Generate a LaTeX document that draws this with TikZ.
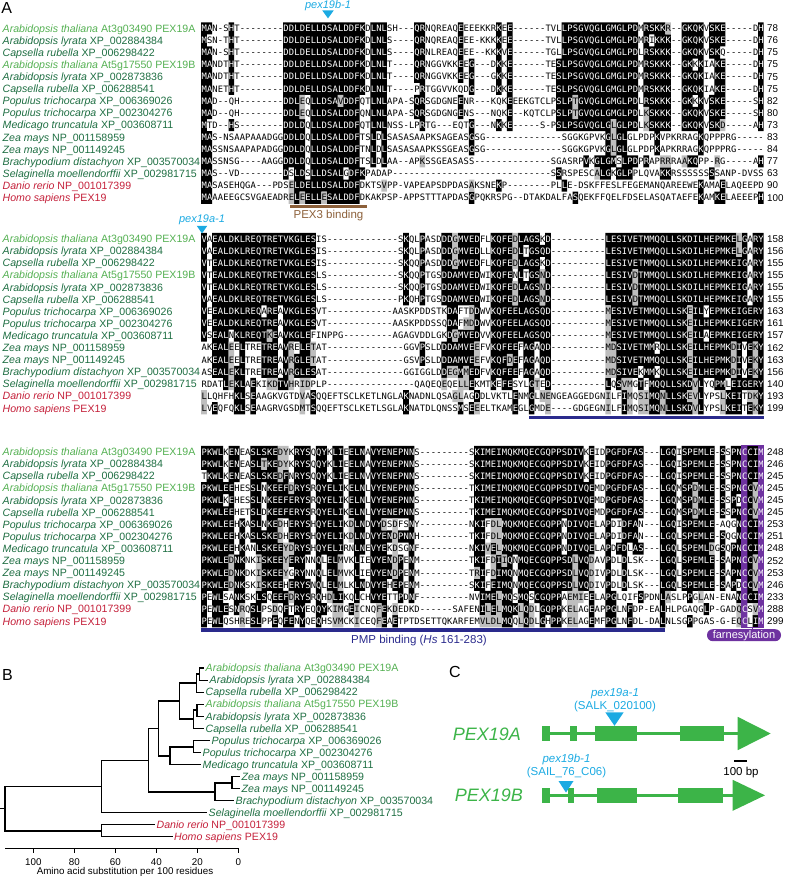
\documentclass[tikz,border=0pt]{standalone}
\usepackage{fontspec}
\setmainfont{Liberation Sans}
\newfontfamily\alnfont{DejaVu Sans Mono}
\usetikzlibrary{positioning}

\definecolor{spA}{RGB}{84,176,82}
\definecolor{spD}{RGB}{30,110,66}
\definecolor{spR}{RGB}{196,32,58}
\definecolor{insblue}{RGB}{27,170,226}
\definecolor{genegreen}{RGB}{60,180,72}
\definecolor{pexbrown}{RGB}{140,96,58}
\definecolor{pmpblue}{RGB}{42,42,140}
\definecolor{farnpurple}{RGB}{110,50,160}
\definecolor{alngray}{RGB}{190,190,190}

\tikzset{
  panel/.style={inner sep=0pt, font=\fontsize{16}{18}\selectfont},
  splabel/.style={anchor=west, inner sep=1.5pt, text height=7.6pt, text depth=0pt, font=\fontsize{10.6}{12}\selectfont},
  numlab/.style={anchor=west, inner sep=0pt, font=\fontsize{9.8}{11}\selectfont},
  resrow/.style={anchor=west, inner sep=0pt, text height=6.4pt, text depth=0pt, font=\alnfont\fontsize{8.8}{9}\selectfont},
  annot/.style={inner sep=0pt, font=\fontsize{11.5}{13}\selectfont},
  inslab/.style={inner sep=0pt, text=insblue, font=\fontsize{11.5}{13}\selectfont},
  instri/.style={fill=insblue},
  domainbar/.style={line width=3.3pt},
  farnline/.style={draw=farnpurple, line width=1.2pt},
  farnbox/.style={fill=farnpurple, text=white, rounded corners=5.8pt, minimum width=74pt, minimum height=12pt, inner sep=0pt, font=\fontsize{11}{12}\selectfont},
  treeedge/.style={line width=1.1pt},
  axisline/.style={line width=0.9pt},
  ticklab/.style={inner sep=0pt, font=\fontsize{9.8}{11}\selectfont},
  genelab/.style={anchor=east, inner sep=0pt, text=genegreen, font=\fontsize{18}{20}\selectfont\itshape},
  exon/.style={fill=genegreen, inner sep=0pt, minimum height=15.3pt},
  intron/.style={draw=genegreen, line width=2.7pt}
}

% residue boxes, shading and one text row of a block
\newcommand\alnch[1]{\makebox[5.46pt]{#1}}
\newcommand\alnwch[1]{\makebox[5.46pt]{\color{white}#1}}
\newcommand\alnfills[3]{\fill[black] #1; \fill[alngray] #2; \fill[farnpurple] #3;}
\newcommand\alnrowtext[4]{\node[resrow] (row#1-#2) at (201.27,{#3+12.1*(#2-1)}) {#4};}

\ExplSyntaxOn
\int_new:N \l_aln_best_int
\int_new:N \l_aln_cnt_int
\int_new:N \l_aln_sty_int
\int_new:N \l_aln_cur_int
\int_new:N \l_aln_runsty_int
\int_new:N \l_aln_runstart_int
\tl_new:N \l_aln_best_tl
\tl_new:N \l_aln_ch_tl
\tl_new:N \l_aln_top_tl
\tl_new:N \l_aln_black_tl
\tl_new:N \l_aln_gray_tl
\tl_new:N \l_aln_purple_tl
\seq_new:N \l_aln_col_seq
\seq_new:N \l_aln_sty_seq
\int_step_inline:nn {15} { \tl_new:c { l_aln_txt_#1_tl } }
\cs_generate_variant:Nn \tl_put_right:Nn { ce }
\cs_new_protected:Npn \alnrow #1#2#3 { \tl_gset:cn { g_aln_#1_#2_tl } {#3} }
\cs_new:Npn \aln_group:n #1
  {
    \str_case:nnF {#1}
      {
        {I}{1} {L}{1} {M}{1} {V}{1}
        {F}{2} {Y}{2} {W}{2}
        {K}{3} {R}{3} {H}{3}
        {D}{4} {E}{4}
        {N}{5} {Q}{5}
        {S}{6} {T}{6}
        {A}{7} {G}{7}
      }
      {#1}
  }
\cs_generate_variant:Nn \aln_group:n {V}
\cs_new:Npn \aln_rect:nnn #1#2#3
  {
    ( \fp_eval:n { 201.22 + 5.46 * (#1 - 1) } , \fp_eval:n { \l_aln_top_tl - 6.05 + 12.1 * (#2 - 1) } )
    ~ rectangle ~
    ( \fp_eval:n { 201.32 + 5.46 * (#1) } , \fp_eval:n { \l_aln_top_tl + 6.05 + 12.1 * (#3 - 1) } ) ~
  }
\cs_new_protected:Npn \aln_flush:nn #1#2
  {
    \int_case:nn { \l_aln_runsty_int }
      {
        {1} { \tl_put_right:Ne \l_aln_black_tl { \aln_rect:nnn {#1} { \int_use:N \l_aln_runstart_int } {#2} } }
        {2} { \tl_put_right:Ne \l_aln_gray_tl { \aln_rect:nnn {#1} { \int_use:N \l_aln_runstart_int } {#2} } }
        {3} { \tl_put_right:Ne \l_aln_purple_tl { \aln_rect:nnn {#1} { \int_use:N \l_aln_runstart_int } {#2} } }
      }
  }
% shade one block: identical to the column's most frequent residue = black, similar = gray
\cs_new_protected:Npn \alnblock #1#2
  {
    \tl_set:Nn \l_aln_top_tl {#2}
    \tl_clear:N \l_aln_black_tl
    \tl_clear:N \l_aln_gray_tl
    \tl_clear:N \l_aln_purple_tl
    \int_step_inline:nn {15} { \tl_clear:c { l_aln_txt_##1_tl } }
    \int_step_inline:nn {103}
      {
        \seq_clear:N \l_aln_col_seq
        \int_step_inline:nn {15}
          { \seq_put_right:Ne \l_aln_col_seq { \tl_item:cn { g_aln_#1_####1_tl } {##1} } }
        \int_zero:N \l_aln_best_int
        \tl_clear:N \l_aln_best_tl
        \seq_map_inline:Nn \l_aln_col_seq
          {
            \str_if_eq:nnF {####1} {-}
              {
                \int_zero:N \l_aln_cnt_int
                \seq_map_inline:Nn \l_aln_col_seq
                  { \str_if_eq:nnT {####1} {########1} { \int_incr:N \l_aln_cnt_int } }
                \int_compare:nNnT \l_aln_cnt_int > \l_aln_best_int
                  {
                    \int_set_eq:NN \l_aln_best_int \l_aln_cnt_int
                    \tl_set:Nn \l_aln_best_tl {####1}
                  }
              }
          }
        \seq_clear:N \l_aln_sty_seq
        \int_step_inline:nn {15}
          {
            \tl_set:Ne \l_aln_ch_tl { \seq_item:Nn \l_aln_col_seq {####1} }
            \int_zero:N \l_aln_sty_int
            \int_compare:nNnT \l_aln_best_int > {6}
              {
                \tl_if_eq:NNTF \l_aln_ch_tl \l_aln_best_tl
                  { \int_set:Nn \l_aln_sty_int {1} }
                  {
                    \str_if_eq:eeT { \aln_group:V \l_aln_ch_tl } { \aln_group:V \l_aln_best_tl }
                      { \int_set:Nn \l_aln_sty_int {2} }
                  }
              }
            \int_compare:nNnT {#1} = {3}
              {
                \bool_lazy_or:nnT { \int_compare_p:nNn {##1} = {100} } { \int_compare_p:nNn {##1} = {103} }
                  { \int_set:Nn \l_aln_sty_int {3} }
              }
            \seq_put_right:Ne \l_aln_sty_seq { \int_use:N \l_aln_sty_int }
            \int_compare:nNnTF { \int_mod:nn { \l_aln_sty_int } {2} } = {1}
              { \tl_put_right:ce { l_aln_txt_####1_tl } { \exp_not:N \alnwch { \l_aln_ch_tl } } }
              { \tl_put_right:ce { l_aln_txt_####1_tl } { \exp_not:N \alnch { \l_aln_ch_tl } } }
          }
        \int_zero:N \l_aln_runsty_int
        \int_set:Nn \l_aln_runstart_int {1}
        \int_step_inline:nn {16}
          {
            \int_compare:nNnTF {####1} > {15}
              { \int_zero:N \l_aln_cur_int }
              { \int_set:Nn \l_aln_cur_int { \seq_item:Nn \l_aln_sty_seq {####1} } }
            \int_compare:nNnF \l_aln_cur_int = \l_aln_runsty_int
              {
                \aln_flush:nn {##1} { \int_eval:n { ####1 - 1 } }
                \int_set_eq:NN \l_aln_runsty_int \l_aln_cur_int
                \int_set:Nn \l_aln_runstart_int {####1}
              }
          }
      }
    \use:e
      {
        \exp_not:N \alnfills
          { \exp_not:V \l_aln_black_tl }
          { \exp_not:V \l_aln_gray_tl }
          { \exp_not:V \l_aln_purple_tl }
      }
    \int_step_inline:nn {15}
      { \use:e { \exp_not:N \alnrowtext {#1} {##1} {#2} { \exp_not:v { l_aln_txt_##1_tl } } } }
  }
\ExplSyntaxOff

% block 1
\alnrow{1}{1}{MAN-SHT--------DDLDELLDSALDDFKDLNLSH---QRNQREAQEEEEKKRKEE------TVLLPSGVQGLGMGLPDMRSKKR--GKQKVSKE-----DH}
\alnrow{1}{2}{MSN-THT--------DDLDELLDSALDDFKDLNLS----QRNQREAQEEE-KKKKEE------TVLLPSGVQGLGMGLPDMRIKKK--GKQKVSKE-----DH}
\alnrow{1}{3}{MAN-SHT--------DDLDELLDSALDDFKDLNLS----QRNLREAQEEE--KKKVE------TGLLPSGVQGLGMGLPDLRSKKK--GKQKVSKQ-----DH}
\alnrow{1}{4}{MANDTHT--------DDLDELLDSALDDFKDLNLT----QRNGGVKKEEG---DKKE------TESLPSGVQGLGMGLPDMRSKKK--GKKKIAKE-----DH}
\alnrow{1}{5}{MANDTHT--------DDLDELLDSALDDFKDLNLT----QRNGGVKKEEG---GKKE------TESLPSGVQGLGMGLPDMRSKKK--GKQKIAKE-----DH}
\alnrow{1}{6}{MANETHT--------DDLDELLDSALDDFKDLNLT----PRTGGVVKQDG---DKKE------TESLPSGVQGLGMGLPDMRSKKK--GKQKIAKE-----DH}
\alnrow{1}{7}{MAD--QH--------DDLEQLLDSAVDDFQTLNLAPA-SQRSGDGNEENR---KQKEEEKGTCLPSLPTGVQGLGMGLPDLRSKKK--GKKKVSKE-----SH}
\alnrow{1}{8}{MAD--QH--------DDLEQLLDSALDDFQNLNLAPA-SQRSGDGNGENS---NQKE--KQTCLPSLPTGVQGLGMGLPDLKSKKK--GKQKVSKE-----SH}
\alnrow{1}{9}{MTD--HS--------DDLDQLLDSALDDFQTLNLNSS-LPRTG---EQTG---NKKE-----S-PSLPSGVQGLGLGLPDLKSKKK--GKQKVSKD-----AH}
\alnrow{1}{10}{MAS-NSAAPAAADGGDDLDQLLDSALDDFTSLDLSASASAAPKSAGEASGSG--------------SGGKGPVKGLGLGLPDPKVPKRRAGKQPPPRG-----AC}
\alnrow{1}{11}{MASSNSAAPAPADGGDDLDQLLDSALDDFTNLDLSASASAAPKSSGEASGSG--------------SGGKGPVKGLGLGLPDPKAPKRRAGKQPPPRG-----AC}
\alnrow{1}{12}{MASSNSG----AAGGDDLDQLLDSALDDFTSLDLAA--APKSSGEASASS--------------SGASRPVKGLGMSLPDPRAPRRRAAKQPP-RG-----AH}
\alnrow{1}{13}{MAS--VD--------DSLDSLLDSALGDFKPADAP-----------------------------SSRSPESCALGKGLPPLQVAKKRSSSSSSSSANP-DVSS}
\alnrow{1}{14}{MASASEHQGA---PDSELDELLDSALDDFDKTSVPP-VAPEAPSDPDASAKSNEKP--------PLLE-DSKFFESLFEGEMANQAREEWEKAMAELAQEEPD}
\alnrow{1}{15}{MAAAEEGCSVGAEADRELEELLESALDDFDKAKPSP-APPSTTTAPDASGPQKRSPG--DTAKDALFASQEKFFQELFDSELASQATAEFEKAMKELAEEEPH}
% block 2
\alnrow{2}{1}{VAEALDKLREQTRETVKGLESIS-------------SKQLPASDDDGMVEDFLKQFEDLAGSKD----------LESIVETMMQQLLSKDILHEPMKELGARY}
\alnrow{2}{2}{VAEALDKLREQTRETVKGLESIS-------------SKQLPASDDDGMVEDLLKQFEDLTGSQD----------LESIVETMMQQLLSKDILHEPMKELGARY}
\alnrow{2}{3}{VTEALDKLREQTRETVKGLESIS-------------SKQQPASDDDGMVEDFLKQFEDLAGSKD----------LESIVETMMQQLLSKDILHEPMKEIGARY}
\alnrow{2}{4}{VTEALDKLREQTRETVKGLESLS-------------SKQQPTGSDDAMVEDWIKQFENLTGSND----------LESIVDTMMQQLLSKDILHEPMKEIGARY}
\alnrow{2}{5}{VTEALDKLREQTRETVKGLESLS-------------SKQQPTGSDDAMVEDWIKQFEDLAGSND----------LESIVDTMMQQLLSKDILHEPMKEIGARY}
\alnrow{2}{6}{VAEALDKLREQTRETVKGLESLS-------------PKQHPTGSDDAMVEDWIKQFEDLAGSND----------LESIVDTMMQQLLSKDILHEPMKEIGARY}
\alnrow{2}{7}{VEEALDKLREQAREAVKGLESVT------------AASKPDDSTKDAFTDDWVKQFEELAGSQD----------MESIVETMMQQLLSKEILYEPMKEIGERY}
\alnrow{2}{8}{VEEALDKLREQTREAVKGLESVT------------AASKPDDSSQDAFMDDWVKQFEELAGSQD----------MESIVETMMQQLLSKEILHEPMKEIGERY}
\alnrow{2}{9}{VSEALNKLREQTKEAVKGLEFINPPG---------AGAGVDDLGKDGMVEDVVKQFEELAGSQD----------MESIVETMMQQLLSKEILAEPMKEIGERY}
\alnrow{2}{10}{AKEALEELTRETREAVRELETAT--------------GGVPSLDDDAMVEEFVKQFEEFAGAQD----------MDSIVETMMRQLLSKEILHEPMKDIVEKY}
\alnrow{2}{11}{AKEALEELTRETREAVRGLETAT--------------GSVPSLDDDAMVEEFVKQFDEFAGAQD----------MDSIVETMMQQLLSKEILHEPMKDIVEKY}
\alnrow{2}{12}{ASEALEKLTRETREAVRGLESAT--------------GGIGGLDDEGMMEDFVKQFEEFAGAQD----------MDSIVEKMMKQLLSKEILHEPMKDIVEKY}
\alnrow{2}{13}{RDATLEKLAEKIKDTVHRIDPLP----------------QAQEQEQELLEKMTKEFESYLGTED----------LQSVMGTFMQQLLSKDVLYQPMLEIGERY}
\alnrow{2}{14}{LLQHFHKLSEAAGKVGTDVASQQEFTSCLKETLNGLAKNADNLQSAGLAGDDLVKTLENMGLNENGEAGGEDGNILFIMQSIMQNLLSKEVLYPSLKEITDKY}
\alnrow{2}{15}{LVEQFQKLSEAAGRVGSDMTSQQEFTSCLKETLSGLAKNATDLQNSSMSEEELTKAMEGLGMDE----GDGEGNILFIMQSIMQNLLSKDVLYPSLKEITEKY}
% block 3
\alnrow{3}{1}{PKWLKENEASLSKEDYKRYSQQYKLIEELNAVYENEPNNS---------SKIMEIMQKMQECGQPPSDIVKEIDPGFDFAS---LGQISPEMLE-SSPNCCIM}
\alnrow{3}{2}{PKWLKENEASLTKEDYKRYSQQYKLIEELNAVYENEPNNS---------SKIMEIMQKMQECGQPPSDIVKEIDPGFDFAS---LGQISPEMLE-SSPNCCIM}
\alnrow{3}{3}{TKWLKENEASLSKEDFNRYSQQYKLIEELNVVYENEPNNS---------SKIMEIMQKMQECGQPPSDIVKEIDPGFDFAS---LGQISPEMLE-SSPNCCIM}
\alnrow{3}{4}{PKWLEEHESSLNKEEFDRYSRQYELIKELNLVYENEPNNS---------TKIMEIMQKMQECGQPPSDIVQEMDPGFDFAS---LGQMSPDMLE-SSPNCCVM}
\alnrow{3}{5}{PKWLKEHESSLNKEEFERYSRQYELIKELNLVYENEPNNS---------TKIMEIMQKMQECGQPPSDIVQEMDPGFDFAS---LGQMSPDMLE-SSPDCCVM}
\alnrow{3}{6}{PKWLEEHETSLDKEEFERYSRQYELIKELNLVYENEPNNS---------TKIMEIMQKMQECGQPPSDIVQEMDPGFDFAS---LGQMSPDMLE-SSPNCCVM}
\alnrow{3}{7}{PKWLEEHKASLNKEDHERYSHQYELIKDLNDVYDSDFSNY---------NKIFDLMQKMQECGQPPNDIVQELAPDIDFAN---LGQISPEMLE-AQGNCCIM}
\alnrow{3}{8}{PKWLEEHKASLSKEDHERYSHQYELIKDLNDVYENDPNNH---------TKIFDLMQKMQECGQPPNDIVQELAPDIDFAN---LGQLSPEMLE-SQGNCCIM}
\alnrow{3}{9}{PKWLEEHKANLSKEEYDRYSHQYELIRNLNEVYEKDSGNF---------NKIVELMQKMQECGQPPNDIVQELAPDFDLAS---LGQLSPEMLDGSQPNCCIM}
\alnrow{3}{10}{PKWLEDNKNKISKEEYERYNNQLELMVKLIEVYENDPENM---------TKIFDIIQNMQECGQPPSDLVQDAVPDLDLSK---LGQLSPEMLE-SAPNCCVM}
\alnrow{3}{11}{PKWLEDNKDKISKEEYGRYNNQLELMVKLIEVYENDPENM---------TRIFDIMQNMQECGQPPSDLVQDIVPDLDLSK---LGQLSPEMLE-SAPNCCVM}
\alnrow{3}{12}{PKWLEDNKSKISKEEHERYSNQLELMLKLNDVYEHEPENM---------SKIFEIMQNMQECGQPPSDLVQDIVPDLDLSK---LGQLSPEMLE-SAPDCCVM}
\alnrow{3}{13}{PEWLSANKSKLSQEEFDRYSRQHDLIKQLCHVYETTPDNF---------NVIMELMQSMQSCGQPPAEMIEELAPGLQIFSPDNLASLPPGLAN-ENANCCIM}
\alnrow{3}{14}{PEWLESNRQSLPSDQFTRYEQQYKIMGEICNQFEKDEDKD------SAFENILELMQKLQDLGQPPKELAGEAPPGLNFDP-EALHLPGAQGLP-GADQCSVM}
\alnrow{3}{15}{PEWLQSHRESLPPEQFENYQEQHSVMCKICEQFEAETPTDSETTQKARFEMVLDLMQQLQDLGHPPKELAGEMFPGLNFDL-DALNLSGPPGAS-G-EQCLIM}

\newcommand\splist{Arabidopsis thaliana/At3g03490 PEX19A/spA, Arabidopsis lyrata/XP\_002884384/spD,
  Capsella rubella/XP\_006298422/spD, Arabidopsis thaliana/At5g17550 PEX19B/spA,
  Arabidopsis lyrata/XP\_002873836/spD, Capsella rubella/XP\_006288541/spD,
  Populus trichocarpa/XP\_006369026/spD, Populus trichocarpa/XP\_002304276/spD,
  Medicago truncatula/XP\_003608711/spD, Zea mays/NP\_001158959/spD, Zea mays/NP\_001149245/spD,
  Brachypodium distachyon/XP\_003570034/spD, Selaginella moellendorffii/XP\_002981715/spD,
  Danio rerio/NP\_001017399/spR, Homo sapiens/PEX19/spR}
\newcommand\tipx{{204,208,204,204,204,204,210,201,201,240,240,234,207,155,172.5}}

\begin{document}
\begin{tikzpicture}[x=1pt, y=-1pt]
\useasboundingbox (0,0) rectangle (785,876);

\node[panel] (pA) at (6.7,7.5) {A};
\node[panel] (pB) at (7.5,675) {B};
\node[panel] (pC) at (455,672) {C};

% A: alignment blocks
\alnblock{1}{28.3}
\alnblock{2}{238.8}
\alnblock{3}{451.8}

\foreach \top/\nums [count=\b] in {28.3/{78,76,75,75,75,75,82,80,73,83,84,77,63,90,100},
    238.8/{158,156,155,155,155,155,163,161,157,162,163,156,140,193,199},
    451.8/{248,246,245,245,245,245,253,251,248,252,253,246,233,288,299}} {
  \foreach \gen/\acc/\col [count=\i] in \splist
    \node[splabel, text=\col] (sp\b-\i) at (1,{\top+12.1*(\i-1)}) {\textit{\gen} \acc};
  \foreach \n [count=\i] in \nums
    \node[numlab] (num\b-\i) at (767,{\top+12.1*(\i-1)}) {\n};
}

% insertion sites and domains
\node[inslab, anchor=base, font=\fontsize{11}{13}\selectfont\itshape] (m19b) at (328,8.5) {pex19b-1};
\fill[instri] (322.2,10.3) -- (333.8,10.3) -- (328,18.4) -- cycle;
\node[inslab, anchor=base, font=\fontsize{11}{13}\selectfont\itshape] (m19a) at (202,222.5) {pex19a-1};
\fill[instri] (196.7,225.8) -- (207.3,225.8) -- (202,233.4) -- cycle;

\draw[domainbar, pexbrown] (290,206.3) -- (367,206.3);
\node[annot, text=pexbrown] (pex3) at (328.5,215.5) {PEX3 binding};
\draw[domainbar, pmpblue] (528.9,417.5) -- (763.6,417.5);
\draw[domainbar, pmpblue] (201.3,630) -- (665.4,630);
\node[annot, text=pmpblue] (pmp) at (419,640.5) {PMP binding (\textit{Hs} 161-283)};

\draw[farnline] (741.8,445.75) rectangle (763.6,627.25);
\node[farnbox] (farn) at (744,635.2) {farnesylation};
\coordinate (farnstem) at (752.7,627.25);
\draw[farnline] (farnstem) -- (farnstem |- farn.north);

% B: tree
\foreach \gen/\acc/\col [count=\i] in \splist {
  \pgfmathsetmacro\tx{\tipx[\i-1]}
  \node[splabel, text=\col] (tip\i) at (\tx,{668+12.05*(\i-1)}) {\textit{\gen} \acc};
}
\coordinate (nA1) at (199.5,674);
\coordinate (nA) at (196.5,683);
\coordinate (nB1) at (197,710);
\coordinate (nB) at (193.5,719);
\coordinate (nBr) at (179.5,701);
\coordinate (nP) at (193.5,747);
\coordinate (nPM) at (170,756);
\coordinate (nDi) at (158.5,728.5);
\coordinate (nZ) at (232,783);
\coordinate (nMo) at (215,792);
\coordinate (nAn) at (148.3,760.3);
\coordinate (nPl) at (101.7,786.6);
\coordinate (nVe) at (101.7,831);
\coordinate (nRoot) at (5,808.8);
\coordinate (nStub) at (0,808.8);
\foreach \p/\ch in {nA1/tip1.west, nA1/tip2.west, nA/nA1, nA/tip3.west, nB1/tip4.west, nB1/tip5.west,
    nB/nB1, nB/tip6.west, nBr/nA, nBr/nB, nP/tip7.west, nP/tip8.west, nPM/nP, nPM/tip9.west,
    nDi/nBr, nDi/nPM, nZ/tip10.west, nZ/tip11.west, nMo/nZ, nMo/tip12.west, nAn/nDi, nAn/nMo,
    nPl/nAn, nPl/tip13.west, nVe/tip14.west, nVe/tip15.west, nRoot/nPl, nRoot/nVe}
  \draw[treeedge] (\p) |- (\ch);
\draw[treeedge] (nStub) -- (nRoot);

% distance axis
\coordinate (ax0) at (5,848.3);
\coordinate (ax1) at (239.3,848.3);
\draw[axisline] (ax0) -- (ax1);
\foreach \v in {0,20,...,100} {
  \draw[axisline] ({238.3-2.05*\v},848.3) -- ++(0,5);
  \node[ticklab, anchor=base] (tk\v) at ({238.3-2.05*\v},865) {\v};
}
\node[ticklab, anchor=base] (axtitle) at (125,874.8) {Amino acid substitution per 100 residues};

% C: gene models
\node[genelab] (gA) at (521,734) {PEX19A};
\coordinate (gAs) at (545.8,733.5);
\coordinate (gAe) at (740,733.5);
\draw[intron] (gAs) -- (gAe);
\node[exon, minimum width=8.3pt] (aE1) at (545.8,733.5) {};
\node[exon, minimum width=7.3pt] (aE2) at (573.6,733.5) {};
\node[exon, minimum width=42.3pt] (aE3) at (616.2,733.5) {};
\node[exon, minimum width=44.3pt] (aE4) at (702.2,733.5) {};
\fill[genegreen] (737.7,716.8) -- (770.7,733.5) -- (737.7,750.2) -- cycle;
\fill[instri] (605.3,712.3) -- (623.7,712.3) -- (614.5,725.8) -- cycle;
\node[inslab, anchor=base] (kA2) at (615,709.5) {(SALK\_020100)};
\node[inslab, anchor=base, above=1.6pt of kA2.north, font=\fontsize{11.5}{13}\selectfont\itshape] (kA1) {pex19a-1};

\node[genelab] (gB) at (523,795.5) {PEX19B};
\coordinate (gBs) at (545.8,795.3);
\coordinate (gBe) at (735,795.3);
\draw[intron] (gBs) -- (gBe);
\node[exon, minimum width=8.3pt] (bE1) at (545.8,795.3) {};
\node[exon, minimum width=6.6pt] (bE2) at (571,795.3) {};
\node[exon, minimum width=40.6pt] (bE3) at (617,795.3) {};
\node[exon, minimum width=44.4pt] (bE4) at (700.5,795.3) {};
\fill[genegreen] (732.7,779.8) -- (765,795.3) -- (732.7,810.8) -- cycle;
\fill[instri] (558.5,781) -- (573.5,781) -- (566,792.6) -- cycle;
\node[inslab, anchor=base] (kB2) at (566.5,775.3) {(SAIL\_76\_C06)};
\node[inslab, anchor=base, above=1.6pt of kB2.north, font=\fontsize{11.5}{13}\selectfont\itshape] (kB1) {pex19b-1};

\coordinate (sb0) at (734.3,761);
\coordinate (sb1) at (747.3,761);
\draw[line width=1.4pt] (sb0) -- (sb1);
\node[ticklab, anchor=base, font=\fontsize{11.5}{13}\selectfont] (sblab) at (741,775.3) {100 bp};
\end{tikzpicture}
\end{document}
